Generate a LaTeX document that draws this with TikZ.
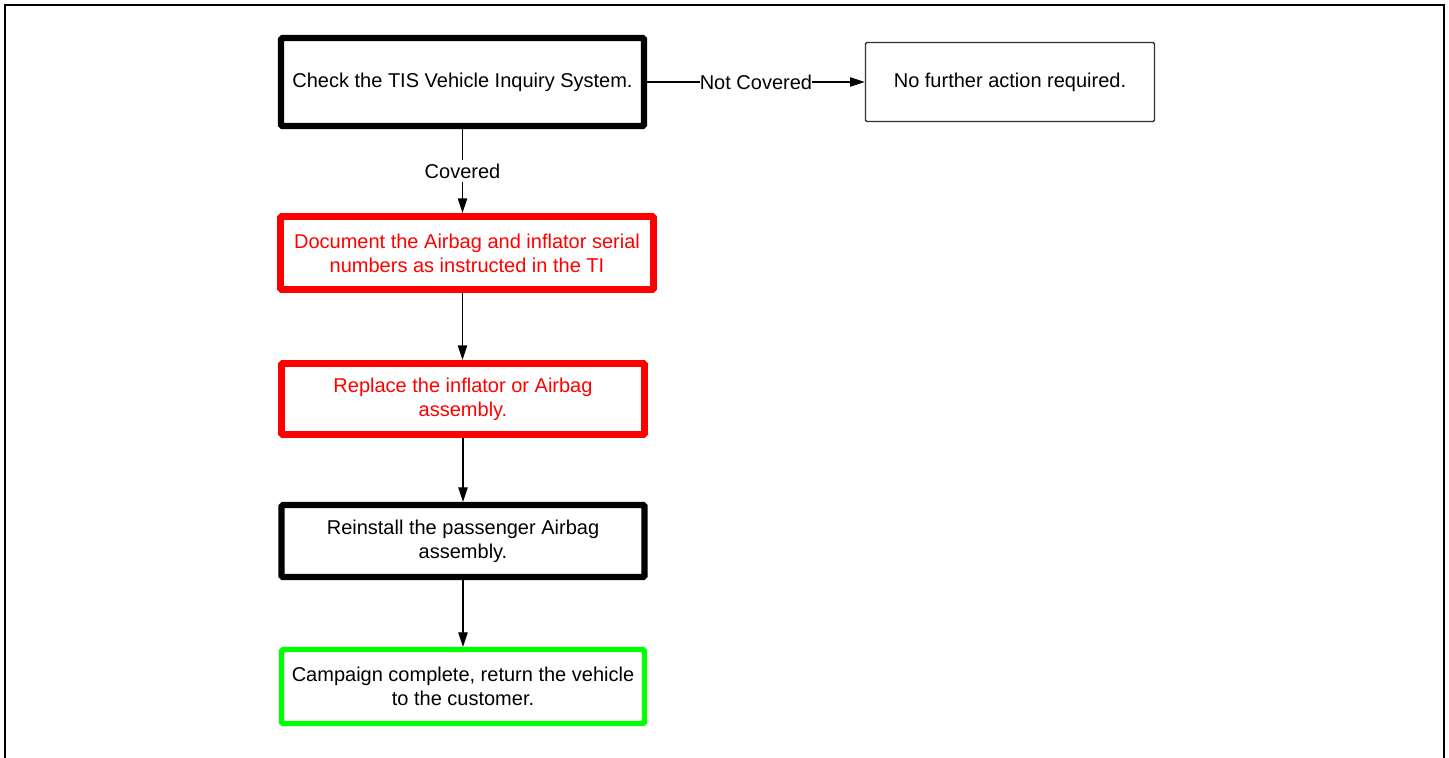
\documentclass[tikz,border=0pt]{standalone}
\usepackage{fontspec}
\setmainfont{Liberation Sans}
\usetikzlibrary{arrows.meta}
\definecolor{boxred}{RGB}{255,0,0}
\definecolor{boxgreen}{RGB}{0,255,0}
\begin{document}
\begin{tikzpicture}[x=0.75pt,y=-0.75pt,
  box/.style={draw, rectangle, rounded corners=1pt, align=center, fill=white,
    font=\fontsize{15}{18}\selectfont, inner sep=0pt},
  blackbox/.style={box, draw=black, line width=4.6pt},
  redbox/.style={box, draw=boxred, text=boxred, line width=5.2pt},
  greenbox/.style={box, draw=boxgreen, line width=3.8pt},
  thinbox/.style={box, draw=black!80, line width=1.1pt},
  conn/.style={draw=black, line width=1pt, -{Triangle[length=11pt,width=7pt]}},
  lbl/.style={fill=white, inner xsep=0pt, inner ysep=3pt, font=\fontsize{15}{18}\selectfont}
]
\useasboundingbox (0,0) rectangle (1449,757);
\draw[line width=1.6pt] (5,760) -- (5,5) -- (1444,5) -- (1444,760);

\node[blackbox, minimum width={363*0.75pt}, minimum height={88*0.75pt}] (b1) at (462.5,82)
  {Check the TIS Vehicle Inquiry System.};
\node[thinbox, minimum width={289*0.75pt}, minimum height={79*0.75pt}] (b6) at (1010,82)
  {No further action required.};
\node[redbox, minimum width={373*0.75pt}, minimum height={73*0.75pt}] (b2) at (467,253)
  {Document the Airbag and inflator serial\\numbers as instructed in the TI};
\node[redbox, minimum width={363*0.75pt}, minimum height={71*0.75pt}] (b3) at (463,399)
  {Replace the inflator or Airbag\\assembly.};
\node[blackbox, minimum width={363*0.75pt}, minimum height={72*0.75pt}] (b4) at (463,541)
  {Reinstall the passenger Airbag\\assembly.};
\node[greenbox, minimum width={363*0.75pt}, minimum height={74*0.75pt}] (b5) at (463,686.5)
  {Campaign complete, return the vehicle\\to the customer.};

\draw[conn] (b1.east) -- node[lbl] {Not Covered} (b6.west);
\draw[conn] (b1.south) -- node[lbl] {Covered} (b1.south |- b2.north);
\draw[conn] (b1.south |- b2.south) -- (b1.south |- b3.north);
\draw[conn] (b3.south) -- (b4.north);
\draw[conn] (b4.south) -- (b5.north);
\end{tikzpicture}
\end{document}
